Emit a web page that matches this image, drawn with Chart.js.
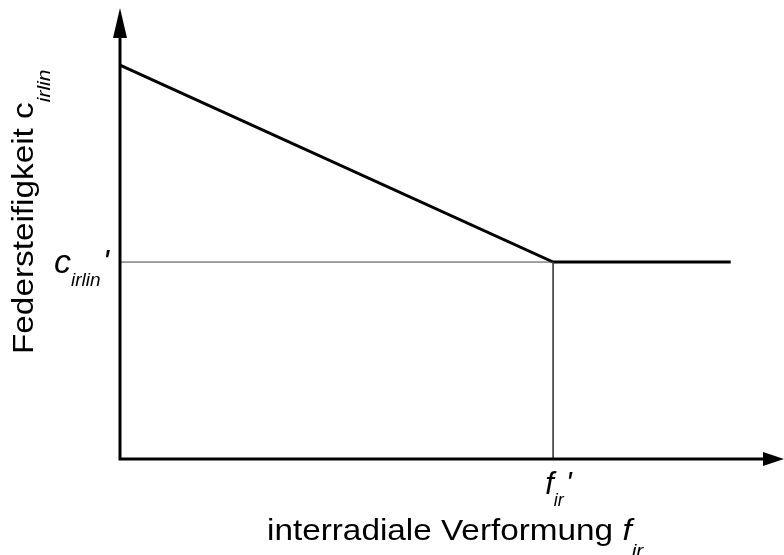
<!DOCTYPE html>
<html>
<head>
<meta charset="utf-8">
<script src="https://cdn.jsdelivr.net/npm/chart.js@4.4.1/dist/chart.umd.min.js"></script>
<style>
	html, body { margin: 0; padding: 0; background: #fff; }
	canvas { display: block; }
</style>
</head>
<body>
<canvas id="myChart" width="784" height="555"></canvas>
<script>
/* Federsteifigkeit über interradialer Verformung (normiert auf f_ir' und c_irlin') */
const deformation = [0, 1, 1.41];
const stiffness = [2, 1, 1];

// Hilfslinien zum Knickpunkt
const guideX = [0, 1, 1];
const guideY = [1, 1, 0];

// Achsenbereich
const xMax = 1.533;
const yMax = 2.29;

const FONT = '"Liberation Sans", Arial, Helvetica, sans-serif';
const STRETCH = 1.11; // Schrift etwas breiter laufen lassen

function toPoints(xs, ys) {
	return xs.map((x, i) => ({ x: x, y: ys[i] }));
}

// Text mit Index (z.B. c_irlin') zeichnen, links ausgerichtet auf Grundlinie
function drawSub(ctx, base, sub, suffix, x, y, size, subSize, subOffset, italic) {
	const style = italic ? 'italic ' : '';
	ctx.font = style + size + 'px ' + FONT;
	ctx.fillText(base, x, y);
	let w = ctx.measureText(base).width;
	ctx.font = 'italic ' + subSize + 'px ' + FONT;
	ctx.fillText(sub, x + w, y + subOffset);
	let ws = ctx.measureText(sub).width;
	if (suffix) {
		ctx.font = style + size + 'px ' + FONT;
		ctx.fillText(suffix, x + w + ws + 2, y);
	}
}

// Achsentitel: normaler Text + Größe mit Index
function drawTitle(ctx, text, sym, sub, x, y, angle) {
	ctx.save();
	ctx.translate(x, y);
	ctx.rotate(angle);
	ctx.scale(STRETCH, 1);
	ctx.font = '30px ' + FONT;
	ctx.fillText(text, 0, 0);
	const w = ctx.measureText(text).width;
	drawSub(ctx, sym, sub, '', w, 0, 30, 19, 17, sym === 'f');
	ctx.restore();
}

const axesPlugin = {
	id: 'axesPlugin',
	afterDraw(chart) {
		const ctx = chart.ctx;
		const xs = chart.scales.x;
		const ys = chart.scales.y;
		const x0 = xs.getPixelForValue(0);
		const y0 = ys.getPixelForValue(0);
		const xEnd = xs.getPixelForValue(xMax);
		const yEnd = ys.getPixelForValue(yMax);

		ctx.save();
		ctx.strokeStyle = '#000';
		ctx.fillStyle = '#000';
		ctx.lineWidth = 3;

		// Achsen
		ctx.beginPath();
		ctx.moveTo(x0, yEnd + 20);
		ctx.lineTo(x0, y0);
		ctx.lineTo(xEnd - 16, y0);
		ctx.stroke();

		// Pfeilspitzen
		ctx.beginPath();
		ctx.moveTo(x0, yEnd);
		ctx.lineTo(x0 - 7, yEnd + 30);
		ctx.lineTo(x0 + 7, yEnd + 30);
		ctx.closePath();
		ctx.fill();

		ctx.beginPath();
		ctx.moveTo(xEnd, y0);
		ctx.lineTo(xEnd - 21, y0 - 7);
		ctx.lineTo(xEnd - 21, y0 + 7);
		ctx.closePath();
		ctx.fill();

		// Beschriftung der Knickpunkte
		ctx.textBaseline = 'alphabetic';
		ctx.textAlign = 'left';
		const yc = ys.getPixelForValue(1);
		const xf = xs.getPixelForValue(1);
		drawSub(ctx, 'c', 'irlin', '\'', 54, yc + 11, 34, 19, 13, true);
		drawSub(ctx, 'f', 'ir', '\'', xf - 8, 494, 31, 18, 12, true);

		// Achsentitel
		drawTitle(ctx, 'interradiale Verformung ', 'f', 'ir', 267, 540, 0);
		drawTitle(ctx, 'Federsteifigkeit ', 'c', 'irlin', 33, 354, -Math.PI / 2);
		ctx.restore();
	}
};

new Chart(document.getElementById('myChart'), {
	type: 'line',
	data: {
		datasets: [
			{
				data: toPoints(guideX, guideY),
				borderColor: '#444',
				borderWidth: 1,
				pointRadius: 0,
				tension: 0,
				clip: false
			},
			{
				data: toPoints(deformation, stiffness),
				borderColor: '#000',
				borderWidth: 3,
				pointRadius: 0,
				tension: 0,
				clip: false
			}
		]
	},
	options: {
		responsive: false,
		animation: false,
		events: [],
		layout: {
			padding: { left: 120, right: 0, top: 8, bottom: 96 }
		},
		plugins: {
			legend: { display: false },
			tooltip: { enabled: false }
		},
		scales: {
			x: { type: 'linear', min: 0, max: xMax, display: false },
			y: { type: 'linear', min: 0, max: yMax, display: false }
		}
	},
	plugins: [axesPlugin]
});
</script>
</body>
</html>
